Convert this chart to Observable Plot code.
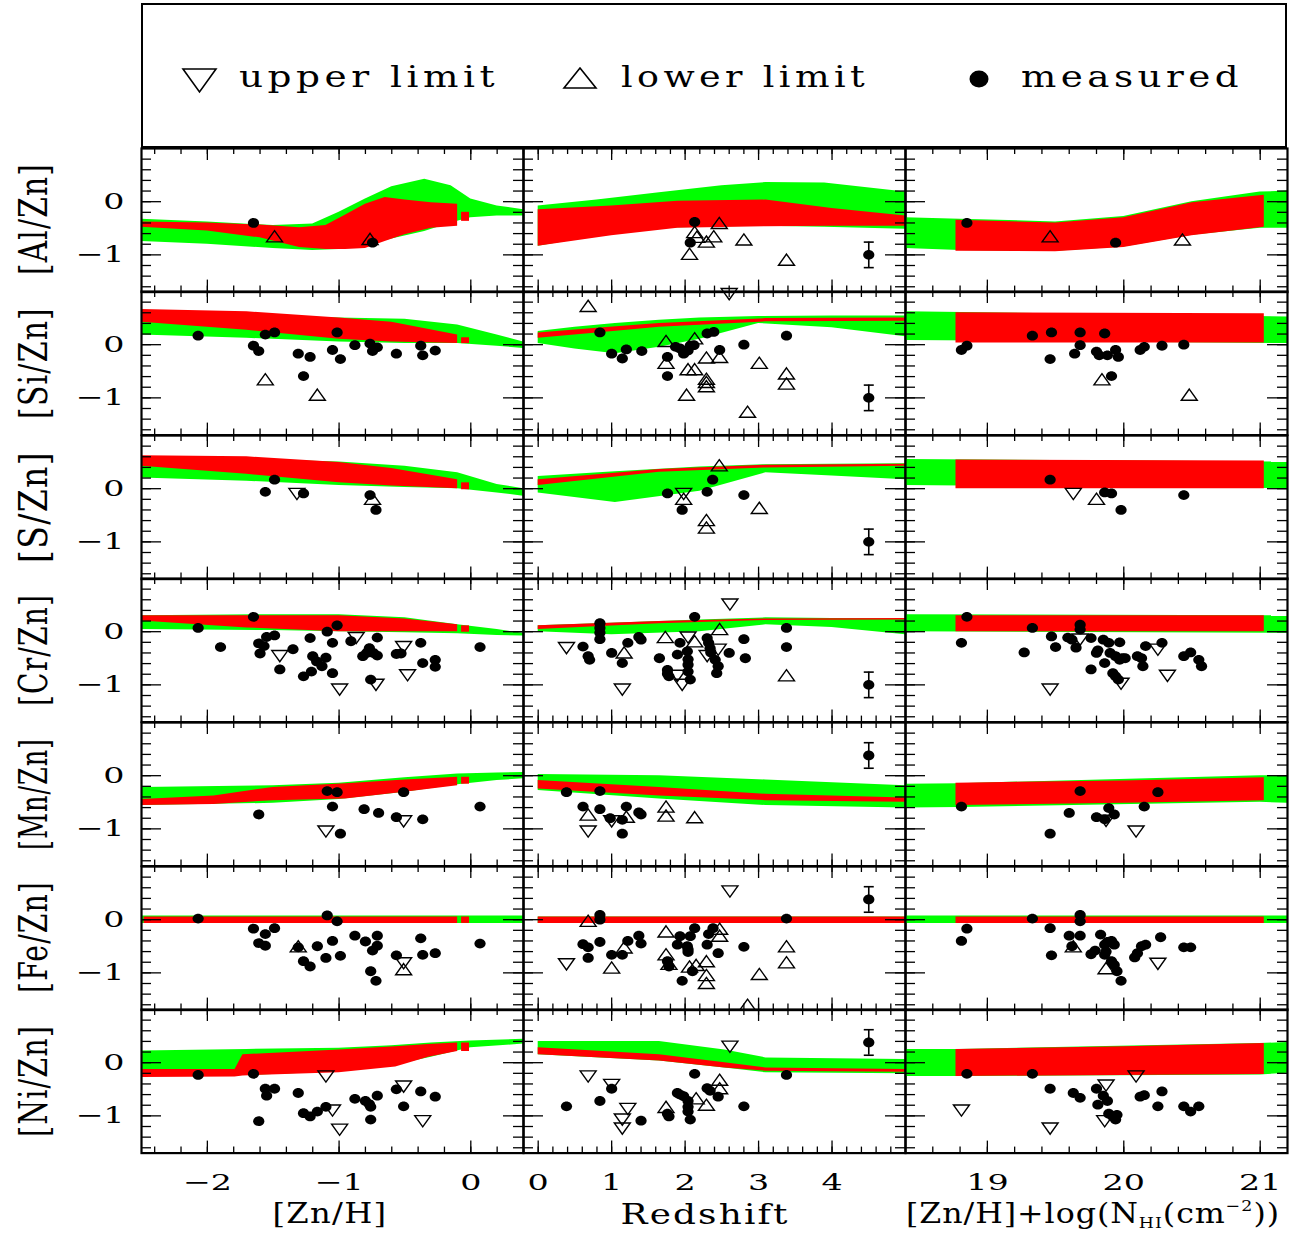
<!DOCTYPE html>
<html><head><meta charset="utf-8">
<script src="https://cdn.jsdelivr.net/npm/d3@7"></script>
<script src="https://cdn.jsdelivr.net/npm/@observablehq/plot@0.6"></script>
<style>
body{margin:0;background:#fff;}
#fig{position:relative;width:1291px;height:1234px;overflow:hidden;font-family:"DejaVu Serif",serif;color:#000;background:#fff;}
#fig svg{position:absolute;overflow:visible;}
.lbl{position:absolute;white-space:nowrap;line-height:1;font-family:"DejaVu Serif",serif;}
</style></head><body><div id="fig"></div>
<script>
// ---------------- DATA ----------------
const elements = ["[Al/Zn]","[Si/Zn]","[S/Zn]","[Cr/Zn]","[Mn/Zn]","[Fe/Zn]","[Ni/Zn]"];
const xTitles = ["[Zn/H]","Redshift","[Zn/H]+log(N<span class='sb'>HI</span>(cm<span class='sp'>−2</span>))"];
const xDomains = [[-2.5,0.4],[-0.2,5.0],[18.4,21.2]];
const yDomain = [-1.7,1.0];
const xMajor = [[-2,-1,0],[0,1,2,3,4],[19,20,21]];
const yMajor = [0,-1];
const legendLabels = ["upper limit","lower limit","measured"];

// points: [x, y, kind]  m = measured, u = upper limit, l = lower limit
const al_znh = [[-1.65,-0.40,"m"],[-1.49,-0.65,"l"],[-0.765,-0.70,"l"],[-0.746,-0.77,"m"]];
const al_z = [[2.13,-0.38,"m"],[2.465,-0.40,"l"],[2.13,-0.57,"l"],[2.16,-0.66,"l"],[2.39,-0.65,"l"],[2.29,-0.75,"l"],[2.07,-0.77,"m"],[2.80,-0.71,"l"],[2.06,-0.98,"l"],[3.38,-1.09,"l"]];
const al_nh = [[18.85,-0.40,"m"],[19.46,-0.65,"l"],[19.94,-0.77,"m"],[20.43,-0.71,"l"]];

const si_znh = [[-2.07,0.17,"m"],[-1.65,-0.02,"m"],[-1.61,-0.12,"m"],[-1.56,0.19,"m"],[-1.49,0.23,"m"],[-1.56,-0.65,"l"],[-1.31,-0.17,"m"],[-1.22,-0.23,"m"],[-1.27,-0.59,"m"],[-1.165,-0.94,"l"],[-1.05,-0.10,"m"],[-1.015,0.23,"m"],[-0.99,-0.27,"m"],[-0.88,-0.01,"m"],[-0.765,0.02,"m"],[-0.746,-0.12,"m"],[-0.71,-0.05,"m"],[-0.565,-0.17,"m"],[-0.38,-0.02,"m"],[-0.365,-0.20,"m"],[-0.27,-0.11,"m"]];
const si_z = [[0.68,0.73,"l"],[0.84,0.23,"m"],[1.00,-0.17,"m"],[1.145,-0.26,"m"],[1.20,-0.09,"m"],[1.41,-0.12,"m"],[1.76,-0.23,"m"],[1.76,-0.59,"m"],[1.74,0.07,"l"],[1.74,-0.34,"l"],[1.87,-0.04,"m"],[1.93,-0.07,"m"],[1.98,-0.17,"m"],[2.04,-0.11,"m"],[2.07,-0.02,"m"],[2.12,-0.01,"m"],[2.00,-0.12,"m"],[2.13,0.12,"l"],[2.04,-0.46,"l"],[2.13,-0.46,"l"],[2.02,-0.94,"l"],[2.30,0.21,"m"],[2.39,0.24,"m"],[2.29,-0.24,"l"],[2.47,-0.23,"l"],[2.47,-0.10,"m"],[2.29,-0.64,"l"],[2.29,-0.70,"l"],[2.29,-0.78,"l"],[2.80,0.0,"m"],[3.01,-0.34,"l"],[2.85,-1.26,"l"],[3.38,0.17,"m"],[3.38,-0.54,"l"],[3.38,-0.73,"l"],[2.6,0.95,"u"]];
const si_nh = [[18.81,-0.10,"m"],[18.85,-0.02,"m"],[19.33,0.17,"m"],[19.46,-0.27,"m"],[19.47,0.23,"m"],[19.64,-0.17,"m"],[19.68,0.23,"m"],[19.68,-0.01,"m"],[19.80,-0.13,"m"],[19.82,-0.20,"m"],[19.86,0.21,"m"],[19.88,-0.20,"m"],[19.94,-0.10,"m"],[19.96,-0.23,"m"],[19.91,-0.59,"m"],[19.84,-0.65,"l"],[20.12,-0.10,"m"],[20.15,-0.04,"m"],[20.28,-0.02,"m"],[20.44,0.0,"m"],[20.48,-0.94,"l"]];

const s_znh = [[-1.56,-0.06,"m"],[-1.49,0.17,"m"],[-1.32,-0.10,"u"],[-1.27,-0.09,"m"],[-0.765,-0.12,"m"],[-0.746,-0.19,"l"],[-0.72,-0.40,"m"]];
const s_z = [[1.76,-0.09,"m"],[1.96,-0.40,"m"],[1.98,-0.10,"u"],[1.98,-0.19,"l"],[2.30,-0.06,"m"],[2.375,0.17,"m"],[2.465,0.44,"l"],[2.29,-0.59,"l"],[2.29,-0.73,"l"],[2.80,-0.12,"m"],[3.01,-0.36,"l"]];
const s_nh = [[19.46,0.17,"m"],[19.63,-0.10,"u"],[19.86,-0.07,"m"],[19.91,-0.09,"m"],[19.80,-0.19,"l"],[19.98,-0.40,"m"],[20.44,-0.12,"m"]];

const cr_znh = [[-2.07,0.07,"m"],[-1.90,-0.29,"m"],[-1.65,0.28,"m"],[-1.61,-0.22,"m"],[-1.60,-0.41,"m"],[-1.57,-0.27,"m"],[-1.55,-0.10,"m"],[-1.49,-0.07,"m"],[-1.45,-0.46,"u"],[-1.45,-0.71,"m"],[-1.35,-0.33,"m"],[-1.27,-0.84,"m"],[-1.22,-0.12,"m"],[-1.21,-0.75,"m"],[-1.20,-0.46,"m"],[-1.17,-0.56,"m"],[-1.13,-0.65,"m"],[-1.10,-0.49,"m"],[-1.09,0.0,"m"],[-1.05,-0.21,"m"],[-1.05,-0.78,"m"],[-1.015,0.12,"m"],[-0.996,-1.09,"u"],[-0.91,-0.18,"m"],[-0.87,-0.12,"u"],[-0.82,-0.46,"m"],[-0.79,-0.40,"m"],[-0.77,-0.31,"m"],[-0.76,-0.90,"m"],[-0.74,-0.40,"m"],[-0.71,-0.11,"m"],[-0.72,-1.00,"u"],[-0.71,-0.45,"m"],[-0.565,-0.42,"m"],[-0.53,-0.41,"m"],[-0.51,-0.29,"u"],[-0.48,-0.82,"u"],[-0.38,-0.21,"m"],[-0.365,-0.59,"m"],[-0.27,-0.53,"m"],[-0.27,-0.66,"m"],[0.07,-0.29,"m"]];
const cr_z = [[0.385,-0.31,"u"],[0.61,-0.28,"m"],[0.68,-0.46,"m"],[0.70,-0.53,"m"],[0.84,0.16,"m"],[0.84,0.07,"m"],[0.84,-0.02,"m"],[0.84,-0.14,"m"],[1.00,-0.40,"m"],[1.17,-0.39,"l"],[1.145,-1.09,"u"],[1.145,-0.59,"m"],[1.22,-0.21,"m"],[1.37,-0.10,"m"],[1.40,-0.15,"m"],[1.65,-0.50,"m"],[1.73,-0.10,"l"],[1.76,-0.72,"m"],[1.76,-0.79,"m"],[1.78,-0.84,"m"],[1.895,-0.83,"u"],[1.895,-0.43,"m"],[1.93,-0.21,"m"],[1.96,-1.00,"u"],[2.04,-0.11,"u"],[2.03,-0.37,"m"],[2.04,-0.52,"m"],[2.04,-0.62,"m"],[2.04,-0.75,"m"],[2.13,-0.18,"l"],[2.07,-0.90,"m"],[2.13,0.28,"m"],[2.30,-0.12,"m"],[2.32,-0.21,"m"],[2.34,-0.31,"m"],[2.35,-0.39,"m"],[2.30,-0.46,"u"],[2.47,0.05,"l"],[2.45,-0.34,"u"],[2.41,-0.53,"m"],[2.45,-0.65,"m"],[2.43,-0.78,"m"],[2.60,-0.40,"m"],[2.61,0.51,"u"],[2.80,-0.14,"m"],[2.82,-0.50,"m"],[3.38,0.07,"m"],[3.38,-0.29,"m"],[3.38,-0.82,"l"]];
const cr_nh = [[18.81,-0.21,"m"],[18.85,0.28,"m"],[19.27,-0.39,"m"],[19.33,0.07,"m"],[19.47,-0.09,"m"],[19.46,-1.09,"u"],[19.50,-0.29,"m"],[19.59,-0.11,"m"],[19.62,-0.15,"m"],[19.65,-0.30,"m"],[19.68,-0.15,"u"],[19.68,0.13,"m"],[19.68,0.04,"m"],[19.76,-0.12,"m"],[19.76,-0.71,"m"],[19.80,-0.40,"m"],[19.81,-0.35,"m"],[19.85,-0.15,"m"],[19.89,-0.21,"m"],[19.86,-0.59,"m"],[19.90,-0.40,"m"],[19.94,-0.46,"m"],[19.97,-0.53,"m"],[19.99,-0.50,"m"],[19.92,-0.78,"m"],[19.94,-0.84,"m"],[19.96,-0.90,"m"],[19.98,-0.98,"u"],[19.97,-0.20,"m"],[20.01,-0.50,"m"],[20.10,-0.46,"m"],[20.13,-0.50,"m"],[20.14,-0.65,"m"],[20.16,-0.27,"m"],[20.25,-0.34,"u"],[20.28,-0.21,"m"],[20.44,-0.46,"m"],[20.49,-0.39,"m"],[20.55,-0.53,"m"],[20.57,-0.65,"m"],[20.32,-0.83,"u"]];

const mn_znh = [[-1.61,-0.73,"m"],[-1.10,-1.05,"u"],[-1.09,-0.29,"m"],[-1.05,-0.58,"m"],[-1.015,-0.31,"m"],[-0.99,-1.09,"m"],[-0.81,-0.63,"m"],[-0.70,-0.70,"m"],[-0.565,-0.78,"m"],[-0.51,-0.86,"u"],[-0.51,-0.31,"m"],[-0.365,-0.82,"m"],[0.07,-0.58,"m"]];
const mn_z = [[0.385,-0.31,"m"],[0.61,-0.58,"m"],[0.68,-0.73,"l"],[0.68,-1.05,"u"],[0.84,-0.29,"m"],[0.84,-0.63,"m"],[0.98,-0.80,"m"],[1.00,-0.86,"u"],[1.145,-0.83,"m"],[1.145,-1.09,"m"],[1.20,-0.58,"m"],[1.20,-0.77,"l"],[1.37,-0.69,"m"],[1.40,-0.73,"m"],[1.74,-0.58,"l"],[1.74,-0.75,"l"],[2.13,-0.78,"l"]];
const mn_nh = [[18.81,-0.58,"m"],[19.46,-1.09,"m"],[19.60,-0.70,"m"],[19.68,-0.29,"m"],[19.80,-0.78,"m"],[19.87,-0.85,"u"],[19.86,-0.82,"m"],[19.89,-0.61,"m"],[19.93,-0.73,"m"],[20.15,-0.58,"m"],[20.09,-1.05,"u"],[20.25,-0.31,"m"]];

const fe_znh = [[-2.07,0.02,"m"],[-1.65,-0.17,"m"],[-1.61,-0.44,"m"],[-1.56,-0.27,"m"],[-1.56,-0.49,"m"],[-1.49,-0.16,"m"],[-1.31,-0.50,"l"],[-1.31,-0.52,"m"],[-1.165,-0.50,"m"],[-1.27,-0.78,"m"],[-1.22,-0.88,"m"],[-1.10,-0.72,"m"],[-1.09,0.08,"m"],[-1.05,-0.40,"m"],[-1.015,-0.03,"m"],[-0.99,-0.68,"m"],[-0.88,-0.30,"m"],[-0.80,-0.41,"m"],[-0.76,-0.97,"m"],[-0.746,-0.58,"m"],[-0.72,-1.15,"m"],[-0.71,-0.30,"m"],[-0.71,-0.49,"m"],[-0.565,-0.67,"m"],[-0.51,-0.82,"u"],[-0.51,-0.93,"l"],[-0.38,-0.35,"m"],[-0.365,-0.66,"m"],[-0.27,-0.63,"m"],[0.07,-0.45,"m"]];
const fe_z = [[0.385,-0.84,"u"],[0.61,-0.46,"m"],[0.68,-0.52,"m"],[0.68,-0.72,"m"],[0.68,-0.02,"l"],[0.84,0.09,"m"],[0.84,0.0,"m"],[0.84,-0.42,"m"],[1.00,-0.66,"m"],[1.00,-0.90,"l"],[1.145,-0.66,"m"],[1.17,-0.52,"l"],[1.22,-0.40,"m"],[1.37,-0.30,"m"],[1.40,-0.45,"m"],[1.74,-0.22,"l"],[1.74,-0.65,"l"],[1.76,-0.78,"m"],[1.78,-0.88,"m"],[1.78,-0.83,"l"],[1.895,-0.47,"m"],[1.93,-0.31,"m"],[1.96,-1.15,"m"],[2.03,-0.50,"m"],[2.04,-0.56,"m"],[2.04,-0.61,"m"],[2.07,-0.31,"m"],[2.10,-0.97,"m"],[2.06,-0.88,"l"],[2.13,-0.16,"m"],[2.15,-0.85,"l"],[2.29,-0.78,"l"],[2.29,-1.04,"l"],[2.29,-1.19,"l"],[2.30,-0.47,"m"],[2.32,-0.27,"m"],[2.38,-0.16,"m"],[2.47,-0.17,"l"],[2.47,-0.30,"l"],[2.45,-0.63,"m"],[2.61,0.53,"u"],[2.80,-0.51,"m"],[3.01,-1.02,"l"],[2.85,-1.60,"l"],[3.38,0.02,"m"],[3.38,-0.50,"l"],[3.38,-0.80,"l"]];
const fe_nh = [[18.81,-0.40,"m"],[18.85,-0.17,"m"],[19.33,0.02,"m"],[19.46,-0.16,"m"],[19.47,-0.67,"m"],[19.60,-0.30,"m"],[19.62,-0.50,"m"],[19.63,-0.50,"l"],[19.68,0.09,"m"],[19.68,-0.03,"m"],[19.68,-0.30,"m"],[19.76,-0.65,"m"],[19.79,-0.58,"m"],[19.83,-0.28,"m"],[19.86,-0.47,"m"],[19.88,-0.42,"m"],[19.91,-0.40,"m"],[19.93,-0.47,"m"],[19.86,-0.66,"m"],[19.87,-0.60,"m"],[19.87,-0.91,"l"],[19.91,-0.78,"m"],[19.93,-0.85,"m"],[19.95,-0.97,"m"],[19.98,-1.15,"m"],[20.08,-0.71,"m"],[20.10,-0.63,"m"],[20.13,-0.50,"m"],[20.16,-0.47,"m"],[20.27,-0.33,"m"],[20.25,-0.83,"u"],[20.44,-0.52,"m"],[20.49,-0.52,"m"]];

const ni_znh = [[-2.07,-0.23,"m"],[-1.65,-0.21,"m"],[-1.61,-1.10,"m"],[-1.56,-0.49,"m"],[-1.55,-0.62,"m"],[-1.49,-0.49,"m"],[-1.31,-0.57,"m"],[-1.27,-0.95,"m"],[-1.22,-1.01,"m"],[-1.165,-0.92,"m"],[-1.10,-0.26,"u"],[-1.10,-0.83,"m"],[-1.05,-0.90,"u"],[-0.996,-1.26,"u"],[-0.88,-0.68,"m"],[-0.80,-0.72,"m"],[-0.77,-0.78,"m"],[-0.76,-0.83,"m"],[-0.76,-1.07,"m"],[-0.71,-0.62,"m"],[-0.565,-0.50,"m"],[-0.51,-0.45,"u"],[-0.51,-0.82,"m"],[-0.38,-0.54,"m"],[-0.365,-1.10,"u"],[-0.27,-0.64,"m"]];
const ni_z = [[0.385,-0.82,"m"],[0.68,-0.26,"u"],[0.84,-0.72,"m"],[1.00,-0.42,"u"],[1.00,-0.49,"m"],[1.22,-0.87,"u"],[1.145,-1.07,"u"],[1.145,-1.24,"u"],[1.40,-1.09,"m"],[1.74,-0.83,"l"],[1.76,-0.96,"m"],[1.78,-1.01,"m"],[1.895,-0.57,"m"],[1.93,-0.60,"m"],[1.98,-0.63,"m"],[2.04,-0.72,"m"],[2.04,-0.83,"m"],[2.04,-0.92,"m"],[2.07,-1.07,"m"],[2.13,-0.21,"m"],[2.15,-0.67,"l"],[2.29,-0.79,"l"],[2.30,-0.48,"m"],[2.34,-0.53,"m"],[2.47,-0.32,"l"],[2.47,-0.48,"l"],[2.45,-0.64,"m"],[2.61,0.30,"u"],[2.80,-0.82,"m"],[3.38,-0.23,"m"]];
const ni_nh = [[18.81,-0.90,"u"],[18.85,-0.21,"m"],[19.33,-0.21,"m"],[19.46,-1.24,"u"],[19.46,-0.49,"m"],[19.63,-0.57,"m"],[19.68,-0.66,"m"],[19.80,-0.49,"m"],[19.81,-0.79,"m"],[19.85,-0.62,"m"],[19.87,-0.43,"u"],[19.88,-0.72,"m"],[19.86,-1.10,"u"],[19.89,-0.96,"m"],[19.92,-1.01,"m"],[19.94,-1.07,"m"],[19.95,-0.98,"m"],[20.09,-0.26,"u"],[20.12,-0.64,"m"],[20.15,-0.61,"m"],[20.25,-0.82,"m"],[20.28,-0.54,"m"],[20.44,-0.82,"m"],[20.49,-0.92,"m"],[20.55,-0.82,"m"]];

// model bands: [x, low, high]
const al_znh_g = [[-2.5,-0.75,-0.33],[-2.0,-0.80,-0.38],[-1.5,-0.88,-0.45],[-1.2,-0.92,-0.42],[-1.0,-0.90,-0.20],[-0.8,-0.82,0.05],[-0.6,-0.70,0.28],[-0.35,-0.56,0.42],[-0.15,-0.40,0.30],[0.0,-0.30,0.05],[0.2,-0.27,-0.08],[0.4,-0.27,-0.15]];
const al_znh_r = [[-2.5,-0.48,-0.38],[-2.0,-0.55,-0.40],[-1.6,-0.68,-0.44],[-1.3,-0.86,-0.49],[-1.1,-0.90,-0.45],[-0.95,-0.90,-0.25],[-0.8,-0.88,-0.05],[-0.65,-0.75,0.08],[-0.5,-0.62,0.03],[-0.3,-0.50,-0.02],[-0.1,-0.46,-0.05]];
const al_z_g = [[0,-0.84,-0.08],[0.8,-0.65,0.03],[1.65,-0.50,0.17],[2.5,-0.47,0.30],[3.1,-0.46,0.36],[3.9,-0.48,0.35],[5.0,-0.52,0.18]];
const al_z_r = [[0,-0.84,-0.15],[1.0,-0.64,-0.08],[1.9,-0.50,0.01],[3.1,-0.47,0.03],[4.0,-0.46,-0.13],[5.0,-0.46,-0.27]];
const al_nh_g = [[18.4,-0.88,-0.30],[18.8,-0.92,-0.33],[19.5,-0.93,-0.38],[20.0,-0.85,-0.28],[20.5,-0.63,0.0],[21.0,-0.50,0.18],[21.2,-0.50,0.20]];
const al_nh_r = [[18.77,-0.93,-0.35],[19.5,-0.94,-0.40],[20.0,-0.86,-0.30],[20.5,-0.64,-0.02],[21.03,-0.48,0.12]];

const si_znh_g = [[-2.5,0.18,0.58],[-1.7,0.12,0.55],[-1.0,0.05,0.50],[-0.5,0.02,0.48],[-0.1,0.02,0.37],[0.2,-0.03,0.18],[0.4,-0.07,0.05]];
const si_znh_r = [[-2.5,0.42,0.66],[-1.7,0.27,0.62],[-1.0,0.10,0.50],[-0.6,0.05,0.42],[-0.1,0.02,0.18]];
const si_z_g = [[0,0.02,0.25],[0.5,-0.08,0.33],[1.05,-0.17,0.40],[1.65,-0.05,0.46],[2.2,0.10,0.50],[3.0,0.40,0.53],[4.0,0.32,0.54],[5.0,0.15,0.54]];
const si_z_r = [[0,0.12,0.22],[0.8,0.22,0.31],[1.65,0.33,0.40],[3.1,0.43,0.49],[5.0,0.44,0.50]];
const si_nh_g = [[18.4,0.08,0.62],[21.2,0.02,0.52]];
const si_nh_r = [[18.77,0.03,0.60],[21.03,0.03,0.58]];

const s_znh_g = [[-2.5,0.20,0.58],[-1.7,0.14,0.55],[-1.0,0.06,0.50],[-0.5,0.02,0.42],[-0.1,0.0,0.30],[0.2,-0.08,0.08],[0.4,-0.14,0.0]];
const s_znh_r = [[-2.5,0.42,0.62],[-1.7,0.27,0.60],[-1.0,0.11,0.49],[-0.6,0.05,0.38],[-0.1,0.0,0.17]];
const s_z_g = [[0,-0.08,0.23],[1.05,-0.26,0.32],[2.2,-0.05,0.41],[3.1,0.30,0.45],[4.0,0.24,0.46],[5.0,0.17,0.47]];
const s_z_r = [[0,0.06,0.17],[1.65,0.31,0.36],[3.1,0.39,0.44],[5.0,0.42,0.46]];
const s_nh_g = [[18.4,0.06,0.55],[21.2,0.0,0.50]];
const s_nh_r = [[18.77,0.0,0.54],[21.03,0.0,0.52]];

const cr_znh_g = [[-2.5,0.04,0.30],[-1.5,0.02,0.32],[-1.0,0.0,0.32],[-0.5,-0.02,0.26],[-0.1,-0.04,0.13],[0.2,-0.07,0.04],[0.4,-0.08,-0.03]];
const cr_znh_r = [[-2.5,0.20,0.30],[-1.7,0.07,0.30],[-1.0,0.0,0.30],[-0.5,0.0,0.24],[-0.1,0.0,0.13]];
const cr_z_g = [[0,0.0,0.11],[1.0,-0.06,0.16],[2.2,0.0,0.22],[3.1,0.13,0.26],[4.0,0.08,0.25],[5.0,-0.06,0.24]];
const cr_z_r = [[0,0.04,0.11],[1.65,0.15,0.19],[3.1,0.21,0.24],[5.0,0.22,0.25]];
const cr_nh_g = [[18.4,0.0,0.32],[21.2,-0.03,0.30]];
const cr_nh_r = [[18.77,0.0,0.30],[21.03,0.0,0.30]];

const mn_znh_g = [[-2.5,-0.56,-0.22],[-1.5,-0.52,-0.19],[-1.0,-0.45,-0.14],[-0.5,-0.31,-0.04],[-0.1,-0.17,0.03],[0.2,-0.09,0.05],[0.4,-0.06,0.06]];
const mn_znh_r = [[-2.5,-0.56,-0.45],[-1.95,-0.54,-0.38],[-1.5,-0.47,-0.22],[-0.95,-0.44,-0.15],[-0.5,-0.31,-0.08],[-0.1,-0.19,-0.03]];
const mn_z_g = [[0,-0.28,0.02],[1.65,-0.44,0.0],[3.1,-0.56,-0.08],[5.0,-0.61,-0.19]];
const mn_z_r = [[0,-0.25,-0.09],[1.65,-0.38,-0.22],[3.1,-0.47,-0.35],[5.0,-0.50,-0.42]];
const mn_nh_g = [[18.4,-0.61,-0.16],[18.8,-0.60,-0.15],[21.0,-0.50,0.0],[21.2,-0.52,0.0]];
const mn_nh_r = [[18.77,-0.56,-0.14],[20.0,-0.52,-0.10],[21.03,-0.47,-0.04]];

const fe_znh_g = [[-2.5,-0.07,0.07],[0.4,-0.07,0.07]];
const fe_znh_r = [[-2.48,-0.07,0.05],[-0.1,-0.07,0.05]];
const fe_z_g = [[0,-0.07,0.05],[5.0,-0.07,0.05]];
const fe_z_r = [[0,-0.07,0.05],[5.0,-0.07,0.05]];
const fe_nh_g = [[18.4,-0.07,0.07],[21.2,-0.07,0.07]];
const fe_nh_r = [[18.77,-0.07,0.05],[21.03,-0.07,0.05]];

const ni_znh_g = [[-2.5,-0.26,0.22],[-1.7,-0.24,0.25],[-1.0,-0.17,0.27],[-0.6,-0.06,0.32],[-0.3,0.10,0.37],[0.0,0.28,0.41],[0.4,0.35,0.44]];
const ni_znh_r = [[-2.5,-0.28,-0.13],[-1.79,-0.27,-0.13],[-1.73,-0.25,0.15],[-1.0,-0.19,0.24],[-0.57,-0.08,0.30],[-0.32,0.10,0.34],[-0.1,0.21,0.37]];
const ni_z_g = [[0,0.15,0.40],[1.65,0.03,0.40],[2.54,-0.10,0.24],[3.1,-0.19,0.09],[5.0,-0.21,0.06]];
const ni_z_r = [[0,0.15,0.28],[1.65,0.03,0.15],[2.54,-0.10,0.0],[3.1,-0.16,-0.10],[5.0,-0.18,-0.13]];
const ni_nh_g = [[18.4,-0.26,0.25],[18.8,-0.26,0.25],[21.0,-0.23,0.36],[21.2,-0.20,0.38]];
const ni_nh_r = [[18.77,-0.26,0.25],[20.0,-0.24,0.30],[21.03,-0.22,0.36]];

// narrow red model strip near [Zn/H] = 0 (first column): [x, low, high]
const strip_al = [[-0.07,-0.37,-0.20],[-0.01,-0.37,-0.20]];
const strip_si = [[-0.07,0.02,0.13],[-0.01,0.02,0.13]];
const strip_s = [[-0.07,-0.02,0.11],[-0.01,-0.02,0.11]];
const strip_cr = [[-0.07,-0.01,0.11],[-0.01,-0.01,0.11]];
const strip_mn = [[-0.07,-0.16,-0.03],[-0.01,-0.16,-0.03]];
const strip_fe = [[-0.07,-0.07,0.05],[-0.01,-0.07,0.05]];
const strip_ni = [[-0.07,0.21,0.37],[-0.01,0.21,0.37]];
const strips = [strip_al,strip_si,strip_s,strip_cr,strip_mn,strip_fe,strip_ni];

// typical error bar (redshift column)
const errX = 4.5;
const errY = [-1.0,-1.0,-1.0,-1.0,0.38,0.38,0.38];
const errHalf = 0.24;

const points = [[al_znh,al_z,al_nh],[si_znh,si_z,si_nh],[s_znh,s_z,s_nh],[cr_znh,cr_z,cr_nh],[mn_znh,mn_z,mn_nh],[fe_znh,fe_z,fe_nh],[ni_znh,ni_z,ni_nh]];
const greens = [[al_znh_g,al_z_g,al_nh_g],[si_znh_g,si_z_g,si_nh_g],[s_znh_g,s_z_g,s_nh_g],[cr_znh_g,cr_z_g,cr_nh_g],[mn_znh_g,mn_z_g,mn_nh_g],[fe_znh_g,fe_z_g,fe_nh_g],[ni_znh_g,ni_z_g,ni_nh_g]];
const reds = [[al_znh_r,al_z_r,al_nh_r],[si_znh_r,si_z_r,si_nh_r],[s_znh_r,s_z_r,s_nh_r],[cr_znh_r,cr_z_r,cr_nh_r],[mn_znh_r,mn_z_r,mn_nh_r],[fe_znh_r,fe_z_r,fe_nh_r],[ni_znh_r,ni_z_r,ni_nh_r]];

// ---------------- SYMBOLS ----------------
const sc = size => Math.sqrt(size/Math.PI)/4.5;
const triUp = {draw(c,size){const s=sc(size),w=8*s,h=5.6*s;c.moveTo(0,-h);c.lineTo(w,h);c.lineTo(-w,h);c.closePath();}};
const triDown = {draw(c,size){const s=sc(size),w=8*s,h=5.6*s;c.moveTo(-w,-h);c.lineTo(w,-h);c.lineTo(0,h);c.closePath();}};
const blob = {draw(c,size){const s=sc(size),rx=5.6*s,ry=4.9*s,k=0.5523;
  c.moveTo(rx,0);c.bezierCurveTo(rx,ry*k,rx*k,ry,0,ry);c.bezierCurveTo(-rx*k,ry,-rx,ry*k,-rx,0);
  c.bezierCurveTo(-rx,-ry*k,-rx*k,-ry,0,-ry);c.bezierCurveTo(rx*k,-ry,rx,-ry*k,rx,0);c.closePath();}};
const capSym = {draw(c,size){const s=sc(size);c.moveTo(-5*s,0);c.lineTo(5*s,0);}};

// ---------------- LAYOUT ----------------
const fig = document.getElementById("fig");
const colLeft = [141,523,905], W = 382, H = 143.6, top0 = 147.5;
const rng = (a,b,st) => d3.range(Math.round((b-a)/st)+1).map(i => +(a+i*st).toFixed(3));
const xMinor = [rng(-2.4,0.4,0.2), rng(0,4.8,0.2), rng(18.6,21.0,0.2)];
const yMinor = rng(-1.6,0.8,0.2);
const GREEN = "#00ff00", RED = "#ff0000";
const fmt = d => (d < 0 ? "\u2212" : "") + Math.abs(d);

function panel(r, c) {
  const left = c === 0 ? 141 : 0;
  const bottom = r === 6 ? 81 : 0;
  const marks = [
    Plot.areaY(greens[r][c], {x: d=>d[0], y1: d=>d[1], y2: d=>d[2], fill: GREEN}),
    Plot.areaY(reds[r][c], {x: d=>d[0], y1: d=>d[1], y2: d=>d[2], fill: RED})
  ];
  if (c === 0) marks.push(Plot.areaY(strips[r], {x: d=>d[0], y1: d=>d[1], y2: d=>d[2], fill: RED}));
  marks.push(
    Plot.ruleX(xMinor[c], {insetTop: H-6, stroke:"black", strokeWidth:1.3}),
    Plot.ruleX(xMinor[c], {insetBottom: H-6, stroke:"black", strokeWidth:1.3}),
    Plot.ruleX(xMajor[c], {insetTop: H-12, stroke:"black", strokeWidth:1.3}),
    Plot.ruleX(xMajor[c], {insetBottom: H-12, stroke:"black", strokeWidth:1.3}),
    Plot.ruleY(yMinor, {insetRight: W-10, stroke:"black", strokeWidth:1.3}),
    Plot.ruleY(yMinor, {insetLeft: W-10, stroke:"black", strokeWidth:1.3}),
    Plot.ruleY(yMajor, {insetRight: W-20, stroke:"black", strokeWidth:1.3}),
    Plot.ruleY(yMajor, {insetLeft: W-20, stroke:"black", strokeWidth:1.3}),
    Plot.frame({stroke:"black", strokeWidth:2.2})
  );
  if (c === 1) {
    const eb = [{x: errX, y: errY[r]}];
    marks.push(
      Plot.ruleX(eb, {x:"x", y1: d=>d.y-errHalf, y2: d=>d.y+errHalf, stroke:"black", strokeWidth:1.6}),
      Plot.dot(eb, {x:"x", y: d=>d.y-errHalf, symbol: capSym, r:4.5, stroke:"black", strokeWidth:1.6, fill:"none"}),
      Plot.dot(eb, {x:"x", y: d=>d.y+errHalf, symbol: capSym, r:4.5, stroke:"black", strokeWidth:1.6, fill:"none"}),
      Plot.dot(eb, {x:"x", y:"y", symbol: blob, r:4.5, fill:"black", stroke:null})
    );
  }
  const pts = points[r][c];
  marks.push(
    Plot.dot(pts.filter(d=>d[2]==="m"), {x:d=>d[0], y:d=>d[1], symbol: blob, r:4.5, fill:"black", stroke:null}),
    Plot.dot(pts.filter(d=>d[2]==="l"), {x:d=>d[0], y:d=>d[1], symbol: triUp, r:4.5, fill:"none", stroke:"black", strokeWidth:1.4}),
    Plot.dot(pts.filter(d=>d[2]==="u"), {x:d=>d[0], y:d=>d[1], symbol: triDown, r:4.5, fill:"none", stroke:"black", strokeWidth:1.4})
  );
  if (c === 0) marks.push(Plot.axisY({ticks: yMajor, tickFormat: fmt, tickSize: 0, tickPadding: 17, fontSize: 23, label: null}));
  if (r === 6) marks.push(Plot.axisX({ticks: xMajor[c], tickFormat: fmt, tickSize: 0, tickPadding: 21, fontSize: 23, label: null}));
  const svg = Plot.plot({
    width: W + left, height: H + bottom,
    marginLeft: left, marginRight: 0, marginTop: 0, marginBottom: bottom,
    x: {domain: xDomains[c], ...(r === 6 ? {} : {axis: null})},
    y: {domain: yDomain, ...(c === 0 ? {} : {axis: null})},
    style: {overflow: "visible", background: "transparent", fontFamily: "DejaVu Serif", color: "black"},
    marks
  });
  svg.style.left = (colLeft[c] - left) + "px";
  svg.style.top = (top0 + r*H) + "px";
  fig.appendChild(svg);
}
for (let r = 0; r < 7; r++) for (let c = 0; c < 3; c++) panel(r, c);

// stretch svg tick labels horizontally (wide plotter font)
fig.querySelectorAll("svg text").forEach(t => {
  const w = t.getComputedTextLength();
  if (w > 0) { t.setAttribute("textLength", (w*1.45).toFixed(1)); t.setAttribute("lengthAdjust", "spacingAndGlyphs"); }
});

// ---------------- HTML TEXT ----------------
function fitLabel(html, cx, top, size, target, spacing) {
  const el = document.createElement("div");
  el.className = "lbl"; el.innerHTML = html;
  el.style.fontSize = size + "px"; el.style.left = cx + "px"; el.style.top = top + "px";
  el.style.letterSpacing = spacing + "em";
  fig.appendChild(el);
  const w = el.getBoundingClientRect().width;
  el.style.transform = `translateX(-50%) scaleX(${target / w})`;
  return el;
}
// row labels
elements.forEach((txt, r) => {
  const el = document.createElement("div");
  el.className = "lbl"; el.textContent = txt;
  el.style.fontSize = "30px"; el.style.letterSpacing = "0.04em";
  el.style.left = "34px"; el.style.top = (top0 + r*H + H/2) + "px";
  fig.appendChild(el);
  const w = el.getBoundingClientRect().width;
  el.style.transform = `translate(-50%,-50%) rotate(-90deg) scale(${112 / w}, 1.3)`;
});
// x axis titles
const style = document.createElement("style");
style.textContent = ".sb{font-size:0.55em;position:relative;top:0.3em;} .sp{font-size:0.55em;position:relative;top:-0.75em;}";
document.head.appendChild(style);
fitLabel(xTitles[0], 330, 1200, 28, 115, 0.04);
fitLabel(xTitles[1], 705, 1201, 28, 169, 0.06);
fitLabel(xTitles[2], 1093, 1200, 28, 374, 0.03);

// legend box
const box = document.createElement("div");
Object.assign(box.style, {position:"absolute", left:"141px", top:"3px", width:"1146px", height:"145px", border:"2px solid #000", boxSizing:"border-box"});
fig.appendChild(box);
const ns = "http://www.w3.org/2000/svg";
const lsvg = document.createElementNS(ns, "svg");
lsvg.setAttribute("width", 1291); lsvg.setAttribute("height", 150);
lsvg.style.left = "0px"; lsvg.style.top = "0px";
lsvg.innerHTML = `<polygon points="183,69 216,69 199.5,92" fill="none" stroke="#000" stroke-width="1.6"/>
<polygon points="580,68 596,88 564,88" fill="none" stroke="#000" stroke-width="1.6"/>
<ellipse cx="979" cy="79" rx="9.5" ry="8.5" fill="#000"/>`;
fig.appendChild(lsvg);
fitLabel(legendLabels[0], 369, 62, 30, 260, 0.12);
fitLabel(legendLabels[1], 745, 62, 30, 248, 0.12);
fitLabel(legendLabels[2], 1132, 62, 30, 222, 0.12);
</script></body></html>
